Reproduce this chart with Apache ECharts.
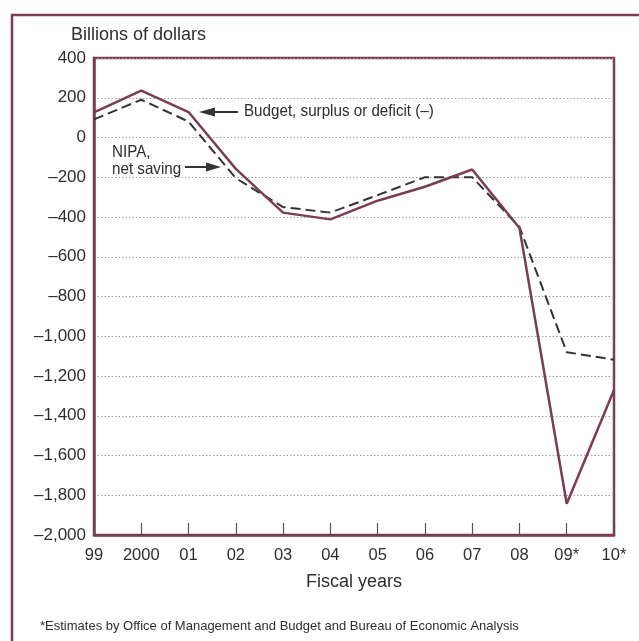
<!DOCTYPE html>
<html><head><meta charset="utf-8">
<script src="https://cdn.jsdelivr.net/npm/echarts@6/dist/echarts.min.js"></script>
<style>html,body{margin:0;padding:0;background:#fff}#c{width:639px;height:641px}</style>
</head><body><div id="c"></div>
<script>
const years = ['99','2000','01','02','03','04','05','06','07','08','09*','10*'];
const budget = [126, 236, 128, -158, -378, -412, -318, -248, -161, -455, -1843, -1270];
const nipa = [91, 190, 80, -205, -350, -378, -290, -200, -200, -450, -1080, -1118];
const yMin = -2000, yMax = 400, yStep = 200;

const maroon = '#7b3e4f';
const txt = '#2e2e2e';
const font = '"Liberation Sans", Arial, sans-serif';
function fmt(v){
  const s = Math.abs(v).toString().replace(/\B(?=(\d{3})+(?!\d))/g, ',');
  return (v < 0 ? '\u2013' : '') + s;
}
const chart = echarts.init(document.getElementById('c'), null, {renderer:'canvas'});
chart.setOption({
  animation:false,
  backgroundColor:'#fff',
  grid:{left:94, right:25, top:58, bottom:106, show:true, borderColor:maroon, borderWidth:2.5, backgroundColor:'transparent'},
  xAxis:{type:'category', data:years, boundaryGap:false,
    axisLine:{show:true, onZero:false, lineStyle:{color:maroon, width:2.5}},
    axisTick:{show:true, inside:true, length:12, lineStyle:{color:'#555', width:1.2}, interval:0},
    axisLabel:{color:txt, fontFamily:font, fontSize:16.5, margin:12, interval:0},
    splitLine:{show:false},
    name:'Fiscal years', nameLocation:'middle', nameGap:38,
    nameTextStyle:{color:txt, fontFamily:font, fontSize:18}
  },
  yAxis:{type:'value', min:yMin, max:yMax, interval:yStep,
    axisLine:{show:true, lineStyle:{color:maroon, width:2.5}},
    axisTick:{show:false},
    axisLabel:{color:txt, fontFamily:font, fontSize:17, margin:8, formatter:fmt},
    splitLine:{show:true, lineStyle:{color:'#a0a0a0', type:[1.5,2], width:1}}
  },
  series:[
    {type:'line', data:nipa, symbol:'none', z:3,
     lineStyle:{color:'#333', width:2, type:[10,5]}},
    {type:'line', data:budget, symbol:'none', z:4,
     lineStyle:{color:maroon, width:2.5}}
  ],
  graphic:[
    {type:'rect', shape:{x:12, y:15, width:660, height:660}, style:{fill:'none', stroke:maroon, lineWidth:2.5}, z:-1},
    {type:'text', x:71, y:26, style:{text:'Billions of dollars', fill:txt, font:'18px '+font}},
    {type:'text', x:244, y:103, scaleX:0.92, style:{text:'Budget, surplus or deficit (\u2013)', fill:txt, font:'16.5px '+font}},
    {type:'line', shape:{x1:238, y1:112, x2:208, y2:112}, style:{stroke:'#333', lineWidth:2}},
    {type:'polygon', shape:{points:[[199,112],[215,107.5],[215,116.5]]}, style:{fill:'#333'}},
    {type:'text', x:112, y:144, scaleX:0.92, style:{text:'NIPA,\nnet saving', fill:txt, font:'16.5px '+font, lineHeight:17}},
    {type:'line', shape:{x1:185, y1:167, x2:212, y2:167}, style:{stroke:'#333', lineWidth:2}},
    {type:'polygon', shape:{points:[[221,167],[206,162.5],[206,171.5]]}, style:{fill:'#333'}},
    {type:'text', x:40, y:620, style:{text:'*Estimates by Office of Management and Budget and Bureau of Economic Analysis', fill:txt, font:'13px '+font}}
  ]
});
</script></body></html>
